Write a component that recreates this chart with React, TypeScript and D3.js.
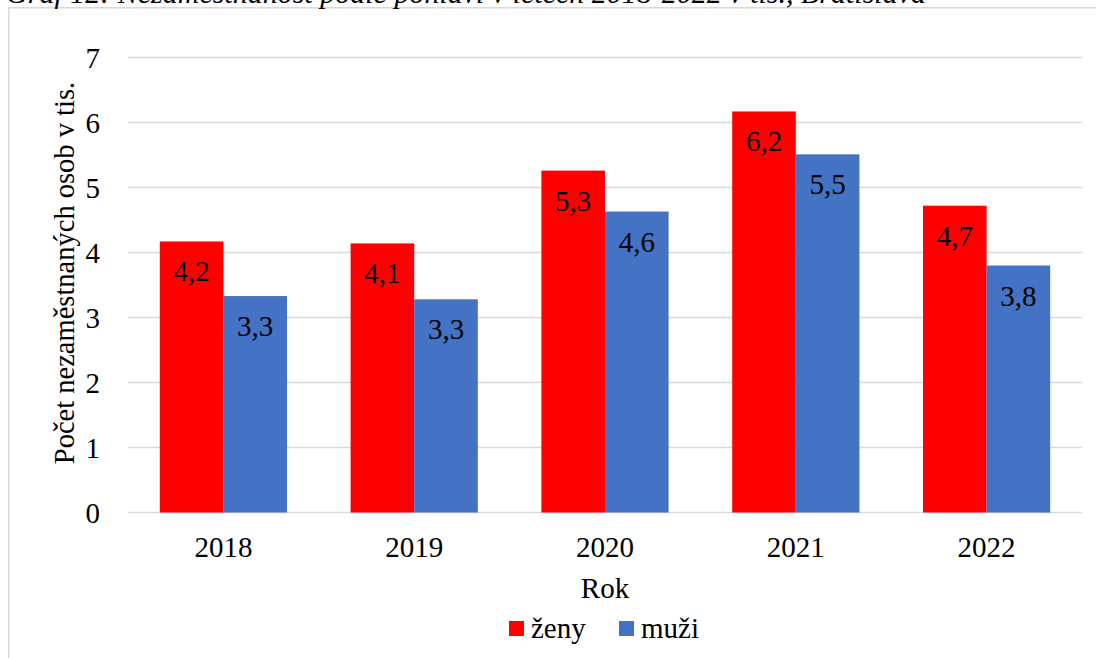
import { useEffect, useRef } from "react";
import * as d3 from "d3";

const years = ["2018", "2019", "2020", "2021", "2022"];
const zeny = [4.17, 4.14, 5.26, 6.17, 4.72];
const muzi = [3.33, 3.28, 4.63, 5.51, 3.8];
const yTicks = [0, 1, 2, 3, 4, 5, 6, 7];
const seriesNames = ["ženy", "muži"];
const seriesColors = ["#ff0000", "#4472c4"];

const W = 1096;
const H = 658;
const FONT = "'Liberation Serif', 'Times New Roman', serif";
const FS = 29;

export default function App() {
  const svgRef = useRef<SVGSVGElement>(null);

  useEffect(() => {
    if (!svgRef.current) return;
    const svg = d3.select(svgRef.current);
    svg.selectAll("*").remove();

    const margin = { top: 57.5, right: 14, bottom: 145.5, left: 128 };
    const innerW = W - margin.left - margin.right;
    const innerH = H - margin.top - margin.bottom;

    // chart frame
    svg.append("rect")
      .attr("x", 8.75)
      .attr("y", 7.75)
      .attr("width", W + 10)
      .attr("height", H + 10)
      .attr("fill", "#fff")
      .attr("stroke", "#d9d9d9")
      .attr("stroke-width", 1.5);

    // cut-off title
    svg.append("text")
      .attr("x", 926)
      .attr("y", 3)
      .attr("text-anchor", "end")
      .attr("font-family", FONT)
      .attr("font-style", "italic")
      .attr("font-size", 30)
      .attr("fill", "#000")
      .text("Graf 12: Nezaměstnanost podle pohlaví v letech 2018-2022 v tis., Bratislava");

    const g = svg.append("g").attr("transform", `translate(${margin.left},${margin.top})`);

    const x = d3.scaleBand().domain(years).range([0, innerW]).paddingInner(0).paddingOuter(0);
    const bw = x.bandwidth() / 3;
    const y = d3.scaleLinear().domain([0, 7]).range([innerH, 0]);

    // gridlines
    g.selectAll(".grid")
      .data(yTicks)
      .join("line")
      .attr("x1", 0)
      .attr("x2", innerW)
      .attr("y1", (d) => y(d))
      .attr("y2", (d) => y(d))
      .attr("stroke", "#d9d9d9")
      .attr("stroke-width", 1.5);

    // y tick labels
    g.selectAll(".ytick")
      .data(yTicks)
      .join("text")
      .attr("x", -28)
      .attr("y", (d) => y(d))
      .attr("dy", "0.35em")
      .attr("text-anchor", "end")
      .attr("font-family", FONT)
      .attr("font-size", FS)
      .attr("fill", "#000")
      .text((d) => d);

    // x tick labels
    g.selectAll(".xtick")
      .data(years)
      .join("text")
      .attr("x", (d) => (x(d) ?? 0) + x.bandwidth() / 2)
      .attr("y", innerH + 44.5)
      .attr("text-anchor", "middle")
      .attr("font-family", FONT)
      .attr("font-size", FS)
      .attr("fill", "#000")
      .text((d) => d);

    const series = [zeny, muzi];
    series.forEach((vals, si) => {
      const off = bw / 2 + si * bw;
      g.selectAll(`.bar${si}`)
        .data(vals)
        .join("rect")
        .attr("x", (_, i) => (x(years[i]) ?? 0) + off)
        .attr("y", (d) => y(d))
        .attr("width", bw)
        .attr("height", (d) => innerH - y(d))
        .attr("fill", seriesColors[si]);

      g.selectAll(`.lbl${si}`)
        .data(vals)
        .join("text")
        .attr("x", (_, i) => (x(years[i]) ?? 0) + off + bw / 2)
        .attr("y", (d) => y(d) + 40)
        .attr("text-anchor", "middle")
        .attr("font-family", FONT)
        .attr("font-size", FS)
        .attr("fill", "#000")
        .text((d) => d.toFixed(1).replace(".", ","));
    });

    // axis titles
    svg.append("text")
      .attr("transform", `translate(74,273) rotate(-90)`)
      .attr("text-anchor", "middle")
      .attr("font-family", FONT)
      .attr("font-size", 28.5)
      .attr("fill", "#000")
      .text("Počet nezaměstnaných osob v tis.");

    svg.append("text")
      .attr("x", 605)
      .attr("y", 598)
      .attr("text-anchor", "middle")
      .attr("font-family", FONT)
      .attr("font-size", FS)
      .attr("fill", "#000")
      .text("Rok");

    // legend
    const legendX = [509, 619];
    seriesNames.forEach((name, i) => {
      svg.append("rect")
        .attr("x", legendX[i])
        .attr("y", 621)
        .attr("width", 15)
        .attr("height", 15)
        .attr("fill", seriesColors[i]);
      svg.append("text")
        .attr("x", legendX[i] + 22)
        .attr("y", 638)
        .attr("font-family", FONT)
        .attr("font-size", FS)
        .attr("fill", "#000")
        .text(name);
    });
  }, []);

  return (
    <svg
      ref={svgRef}
      width={W}
      height={H}
      style={{ position: "absolute", left: 0, top: 0, background: "#fff" }}
    />
  );
}
